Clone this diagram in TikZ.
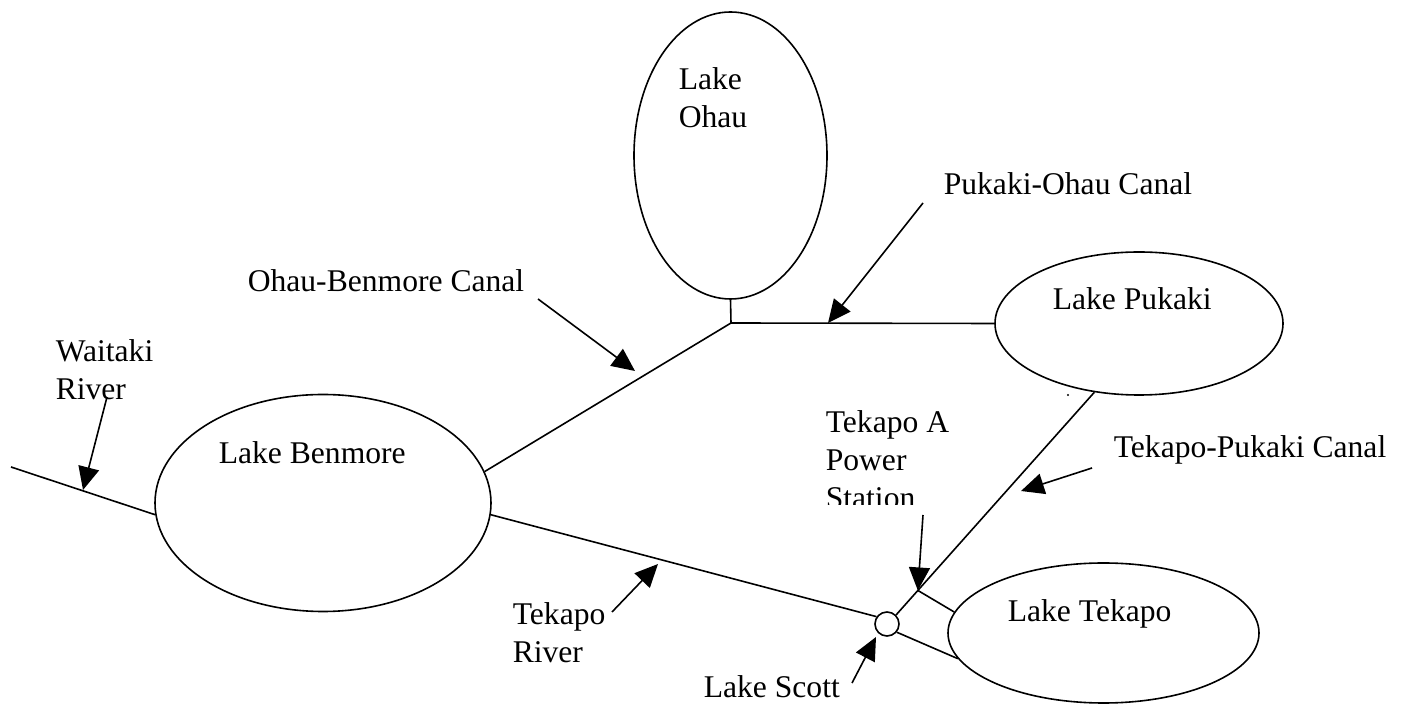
\documentclass[tikz,border=0pt]{standalone}
\usepackage{fontspec}
\setmainfont{Liberation Serif}
\usetikzlibrary{shapes.geometric,arrows.meta}
\begin{document}
\begin{tikzpicture}[x=0.5pt,y=-0.5pt,line width=0.8pt,
    lake/.style={draw,ellipse,inner sep=0pt},
    lbl/.style={anchor=base west,inner sep=0pt,align=left,font=\fontsize{15.8}{19}\selectfont},
    ptr/.style={-{Triangle[length=11.5pt,width=10.5pt]}}]
  \useasboundingbox (0,0) rectangle (1403,704);
  \node[lake,minimum width=96.5pt,minimum height=143.5pt] (ohau) at (730.5,155.5) {};
  \node[lake,minimum width=144pt,minimum height=71.5pt] (pukaki) at (1139,323.5) {};
  \node[lake,minimum width=168pt,minimum height=108.5pt] (benmore) at (323,503) {};
  \node[lake,minimum width=155.5pt,minimum height=70pt] (tekapo) at (1103.5,633) {};
  \node[draw,circle,inner sep=0pt,minimum size=12pt] (scott) at (887,624) {};
  \node[lbl] (ohaulbl) at (678,128) {Lake\\Ohau};
  \node[lbl] (pukakilbl) at (1052,310) {Lake Pukaki};
  \node[lbl] (benmorelbl) at (218,464) {Lake Benmore};
  \node[lbl] (tekapolbl) at (1007,622) {Lake Tekapo};
  \node[lbl] (obcanal) at (247,292) {Ohau-Benmore Canal};
  \node[lbl] (pocanal) at (943,195) {Pukaki-Ohau Canal};
  \node[lbl] (tpcanal) at (1113,458) {Tekapo-Pukaki Canal};
  \node[lbl] (waitaki) at (55,400) {Waitaki\\River};
  \node[lbl] (tekriver) at (512,663) {Tekapo\\River};
  \node[lbl] (scottlbl) at (703,698) {Lake Scott};
  \begin{scope}
    \clip (800,395) rectangle (1000,505);
    \node[lbl] (tekA) at (825,509) {Tekapo A\\Power\\Station};
  \end{scope}
  \coordinate (jn) at (731,323);
  \coordinate (sea) at (11,467);
  \draw (ohau.south) -- (jn) -- (pukaki.west);
  \draw (jn) -- (benmore.11);
  \draw (sea) -- (benmore.184);
  \draw (benmore.-4) -- (scott.145);
  \draw (pukaki.237) -- coordinate[pos=0.89] (ta) (scott.45);
  \draw (ta) -- (tekapo.172);
  \draw (scott.-40) -- (tekapo.190);
  \fill (1068,395) circle (0.6pt);
  \coordinate (po1) at (923,203);   \coordinate (po2) at (828,323);
  \coordinate (ob1) at (538,299);   \coordinate (ob2) at (635,371);
  \coordinate (wr1) at (107,397);   \coordinate (wr2) at (83,490);
  \coordinate (tr1) at (612,612);   \coordinate (tr2) at (658,564);
  \coordinate (ls1) at (852,683);   \coordinate (ls2) at (876,637);
  \coordinate (ta1) at (923,515);
  \coordinate (tp1) at (1092,468);  \coordinate (tp2) at (1021,491);
  \draw[ptr] (po1) -- (po2);
  \draw[ptr] (ob1) -- (ob2);
  \draw[ptr] (wr1) -- (wr2);
  \draw[ptr] (tr1) -- (tr2);
  \draw[ptr] (ls1) -- (ls2);
  \draw[ptr] (ta1) -- (ta);
  \draw[ptr] (tp1) -- (tp2);
\end{tikzpicture}
\end{document}
